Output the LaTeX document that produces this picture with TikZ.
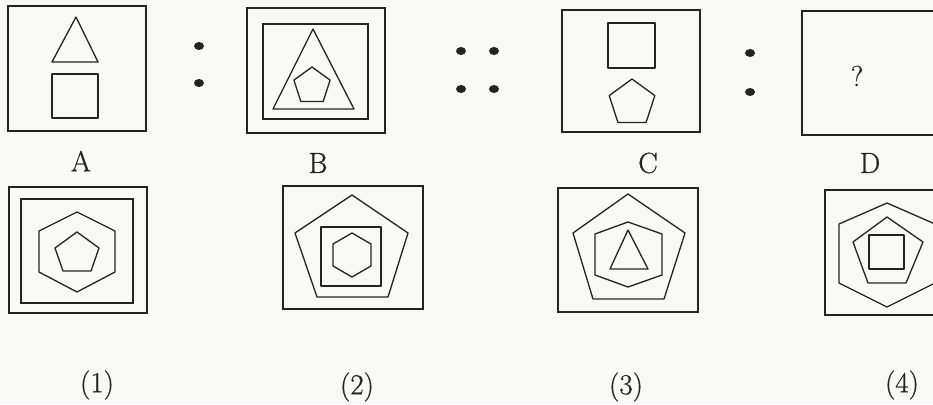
\documentclass[tikz,border=0pt]{standalone}
\usepackage{fontspec}
\newfontfamily\lblfont[FakeBold=0.7]{Latin Modern Roman}
\usetikzlibrary{calc}
\definecolor{ink}{RGB}{35,35,35}
\definecolor{paper}{RGB}{248,248,246}
\tikzset{
  frame/.style={draw=ink, line width=1.8pt, line join=miter},
  shp/.style={draw=ink, line width=1.3pt, line join=round},
  lbl/.style={font=\lblfont\fontsize{29}{33}\selectfont, text=ink, inner sep=0pt},
  dotm/.style={fill=ink, draw=none}
}
\begin{document}
\begin{tikzpicture}[x=1pt,y=-1pt]
\clip (0,0) rectangle (933,404);
\fill[paper] (0,0) rectangle (933,404);
% ---------- A ----------
\draw[frame] (8,6) rectangle (146,131);
\draw[shp] (76,17) -- (98,62) -- (52,62) -- cycle;
\draw[shp] (52,74) rectangle (98,118);
\node[lbl] (labA) at (81,161) {A};
\fill[dotm] (199,46) ellipse (5 and 4);
\fill[dotm] (199,83) ellipse (5 and 4);
% ---------- B ----------
\draw[frame] (247,8) rectangle (385,133);
\draw[frame] (263,24) rectangle (368,119);
\draw[shp] (313,29) -- (354,109) -- (273,109) -- cycle;
\draw[shp] (312,67) -- (330.1,80.1) -- (323.2,101.4) -- (300.8,101.4) -- (293.9,80.1) -- cycle;
\node[lbl] (labB) at (318,163) {B};
\fill[dotm] (461,51) ellipse (5 and 4);
\fill[dotm] (494,51) ellipse (5 and 4);
\fill[dotm] (461,89) ellipse (5 and 4);
\fill[dotm] (494,89) ellipse (5 and 4);
% ---------- C ----------
\draw[frame] (562,10) rectangle (700,132);
\draw[shp] (608,23) rectangle (655,68);
\draw[shp] (632,79) -- (654.8,95.6) -- (646.1,122.4) -- (617.9,122.4) -- (609.2,95.6) -- cycle;
\node[lbl] (labC) at (648,163) {C};
\fill[dotm] (750,53) ellipse (5 and 4);
\fill[dotm] (750,92) ellipse (5 and 4);
% ---------- D ----------
\draw[frame] (802,11) rectangle (945,135);
\node[lbl] (qm) at (857,76) {?};
\node[lbl] (labD) at (870,163) {D};
% ---------- (1) ----------
\draw[frame] (9,187) rectangle (147,313);
\draw[frame] (21,199) rectangle (133,303);
\draw[shp] (77,212) -- (115,231) -- (115,272) -- (77,292) -- (39,272) -- (39,231) -- cycle;
\draw[shp] (77,232) -- (99,248) -- (91,271) -- (63,271) -- (55,248) -- cycle;
\node[lbl] (opt1) at (97,385) {(1)};
% ---------- (2) ----------
\draw[frame] (283,186) rectangle (423,309);
\draw[shp] (352,195) -- (408,233) -- (388,297) -- (317,297) -- (295,233) -- cycle;
\draw[shp] (321,227) rectangle (381,286);
\draw[shp] (352,233) -- (371,244) -- (371,266) -- (352,277) -- (333,266) -- (333,244) -- cycle;
\node[lbl] (opt2) at (357,387) {(2)};
% ---------- (3) ----------
\draw[frame] (558,188) rectangle (698,312);
\draw[shp] (628,194) -- (685,233) -- (664,299) -- (593,299) -- (573,233) -- cycle;
\draw[shp] (628,222) -- (662,234) -- (662,275) -- (628,287) -- (595,275) -- (595,234) -- cycle;
\draw[shp] (628,230) -- (648,269) -- (610,269) -- cycle;
\node[lbl] (opt3) at (626,387) {(3)};
% ---------- (4) ----------
\draw[frame] (825,190) rectangle (945,315);
\draw[shp] (887,203) -- (935,224) -- (935,283) -- (887,307) -- (839,283) -- (839,224) -- cycle;
\draw[shp] (887,217) -- (923,242) -- (906,283) -- (868,283) -- (853,242) -- cycle;
\draw[shp] (869,235) rectangle (904,269);
\node[lbl] (opt4) at (902,385) {(4)};
\end{tikzpicture}
\end{document}
